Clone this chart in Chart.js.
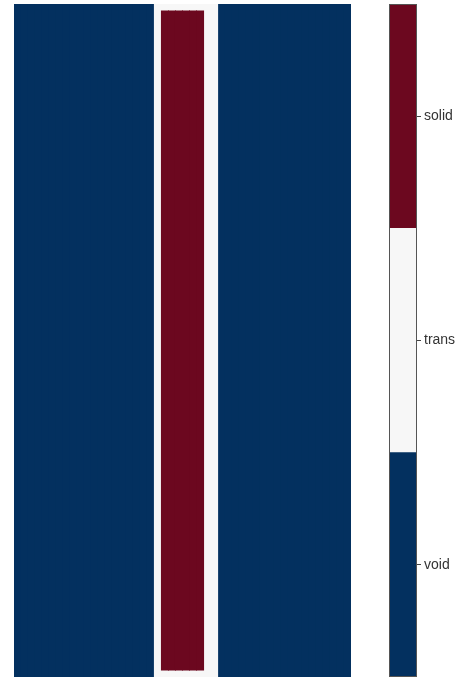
<!DOCTYPE html>
<html>
<head>
<meta charset="utf-8">
<script src="https://cdn.jsdelivr.net/npm/chart.js@4"></script>
<style>
  body { margin:0; background:#fff; width:458px; height:677px; overflow:hidden; position:relative; }
  #main_box { position:absolute; left:14px; top:4px; width:337px; height:673px; }
  #bar_box { position:absolute; left:389px; top:4px; width:69px; height:673px; }
</style>
</head>
<body>
<div id="main_box"><canvas id="myChart"></canvas></div>
<div id="bar_box"><canvas id="colorBar"></canvas></div>
<script>
// phases of the design, bottom to top on the colour bar
const phaseNames = ['void', 'trans', 'solid'];
const phaseColors = ['#03305f', '#f7f7f7', '#6c081f'];

// grid size (cells)
const nCols = 48;
const nRows = 96;

// phase of each column: v = void, t = trans, s = solid strip
const colPhase = 'vvvvvvvvvvvvvvvvvvvvtssssssttvvvvvvvvvvvvvvvvvvv';

// rows covered by the solid strip [from, to]
const solidRows = [1, 95];


function build_grid_datasets()
{
  let labels = [];
  let voidData = [];
  let transData = [];
  let solidData = [];

  for (let i = 0; i < nCols; i++) {
    labels.push(String(i));
    let p = colPhase[i];
    voidData.push(p == 'v' ? [0, nRows] : null);
    transData.push(p != 'v' ? [0, nRows] : null);
    solidData.push(p == 's' ? solidRows : null);
  }

  // first dataset is drawn last (on top)
  const datasets = [
    { label: 'solid', data: solidData, backgroundColor: phaseColors[2] },
    { label: 'trans', data: transData, backgroundColor: phaseColors[1] },
    { label: 'void', data: voidData, backgroundColor: phaseColors[0] }
  ];
  datasets.forEach(d => {
    d.borderWidth = 0;
    d.barPercentage = 1;
    d.categoryPercentage = 1;
    d.grouped = false;
    d.inflateAmount = 0.5;
  });
  return { labels: labels, datasets: datasets };
}


function show_main_map()
{
  new Chart(document.getElementById('myChart'), {
    type: 'bar',
    data: build_grid_datasets(),
    options: {
      responsive: true,
      maintainAspectRatio: false,
      animation: false,
      layout: { padding: 0 },
      plugins: { legend: { display: false }, tooltip: { enabled: false } },
      scales: {
        x: { display: false },
        y: { display: false, min: 0, max: nRows }
      }
    }
  });
}


const outlinePlugin = {
  id: 'outline',
  afterDraw(chart) {
    const a = chart.chartArea;
    const ctx = chart.ctx;
    ctx.save();
    ctx.strokeStyle = '#555';
    ctx.lineWidth = 1;
    ctx.strokeRect(a.left + 0.5, a.top + 0.5, a.right - a.left - 1, a.bottom - a.top - 1);
    ctx.restore();
  }
};


function show_color_bar()
{
  const datasets = phaseNames.map((name, i) => ({
    label: name,
    data: [1],
    backgroundColor: phaseColors[i],
    borderWidth: 0,
    barPercentage: 1,
    categoryPercentage: 1,
    stack: 'cb'
  }));

  new Chart(document.getElementById('colorBar'), {
    type: 'bar',
    data: { labels: ['cb'], datasets: datasets },
    plugins: [outlinePlugin],
    options: {
      responsive: true,
      maintainAspectRatio: false,
      animation: false,
      layout: { padding: 0 },
      plugins: { legend: { display: false }, tooltip: { enabled: false } },
      scales: {
        x: { display: false, stacked: true },
        y: {
          position: 'right',
          stacked: true,
          min: 0,
          max: phaseNames.length,
          afterBuildTicks: (axis) => {
            axis.ticks = phaseNames.map((n, i) => ({ value: i + 0.5 }));
          },
          afterFit: (axis) => {
            axis.width = 41;
            axis.paddingTop = 0;
            axis.paddingBottom = 0;
          },
          ticks: {
            callback: (v) => phaseNames[Math.floor(v)],
            color: '#333',
            font: { family: 'Liberation Sans', size: 14 },
            padding: 3
          },
          grid: { drawOnChartArea: false, tickLength: 4, color: '#444' },
          border: { display: false }
        }
      }
    }
  });
}

show_main_map();
show_color_bar();
</script>
</body>
</html>
